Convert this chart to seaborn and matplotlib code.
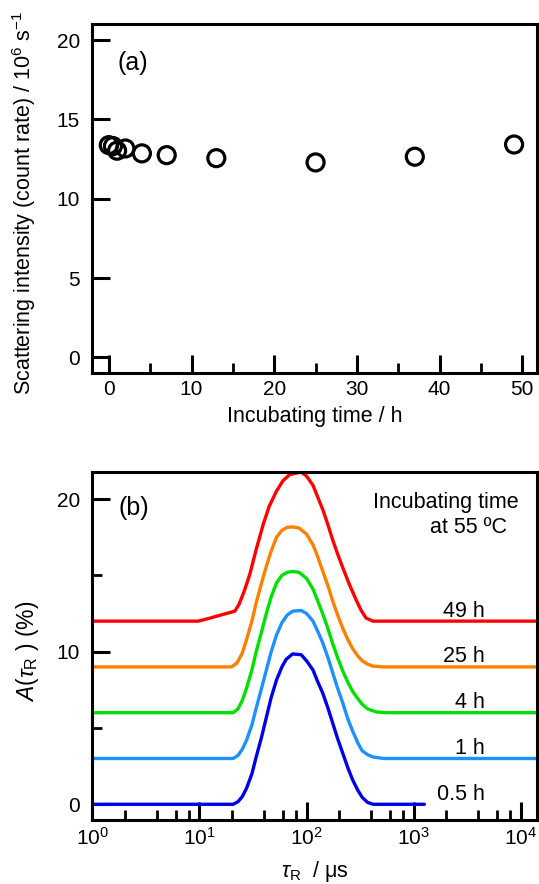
import numpy as np
import pandas as pd
import matplotlib
matplotlib.use("Agg")
import matplotlib.pyplot as plt
import matplotlib.ticker as mticker
import seaborn as sns

# ---------------- data ----------------
# panel (a)
inc_time_h = [0, 0.5, 1, 2, 4, 7, 13, 25, 37, 49]
intensity = [13.38, 13.32, 13.03, 13.17, 12.86, 12.75, 12.56, 12.29, 12.65, 13.42]

# panel (b): relaxation-time distributions (log10 tau in us, A in %)
curve_labels = ["0.5 h", "1 h", "4 h", "25 h", "49 h"]
curve_offsets = [0, 3, 6, 9, 12]
curve_colors = ["#0000e6", "#1e90ff", "#00e000", "#ff8000", "#ff0000"]

logtau_05 = [0, 1.315, 1.36, 1.40, 1.44, 1.49, 1.53, 1.58, 1.625, 1.67, 1.72, 1.77, 1.81, 1.87, 1.95,
             2.00, 2.06, 2.10, 2.15, 2.20, 2.245, 2.29, 2.34, 2.385, 2.43, 2.48, 2.52, 2.57, 2.62, 3.10]
A_05 = [0, 0, 0.17, 0.5, 1.05, 2.0, 3.1, 4.4, 5.7, 7.0, 8.15, 9.0, 9.5, 9.85, 9.8,
        9.4, 8.8, 8.1, 7.3, 6.3, 5.3, 4.3, 3.3, 2.4, 1.6, 0.9, 0.45, 0.12, 0, 0]

logtau_1 = [0, 1.315, 1.36, 1.40, 1.44, 1.49, 1.53, 1.58, 1.625, 1.67, 1.72, 1.77, 1.82, 1.87, 1.95,
            2.00, 2.06, 2.10, 2.15, 2.20, 2.245, 2.29, 2.34, 2.385, 2.43, 2.48, 2.52, 2.57, 2.62, 2.72, 4.153]
A_1 = [0, 0, 0.2, 0.6, 1.2, 2.2, 3.3, 4.6, 5.8, 7.0, 8.1, 8.9, 9.4, 9.65, 9.7,
       9.5, 9.0, 8.4, 7.6, 6.6, 5.6, 4.6, 3.6, 2.6, 1.8, 1.0, 0.5, 0.25, 0.1, 0, 0]

logtau_4 = [0, 1.315, 1.36, 1.40, 1.44, 1.49, 1.53, 1.58, 1.625, 1.67, 1.72, 1.77, 1.82, 1.87, 1.93,
            2.00, 2.06, 2.10, 2.15, 2.20, 2.245, 2.29, 2.34, 2.385, 2.43, 2.48, 2.52, 2.57, 2.65, 2.75, 4.153]
A_4 = [0, 0, 0.25, 0.8, 1.6, 2.8, 4.0, 5.3, 6.5, 7.6, 8.5, 9.0, 9.2, 9.25, 9.2,
       8.8, 8.1, 7.4, 6.5, 5.5, 4.5, 3.6, 2.7, 2.0, 1.4, 0.9, 0.55, 0.25, 0.05, 0, 0]

logtau_25 = [0, 1.30, 1.35, 1.40, 1.44, 1.49, 1.53, 1.58, 1.625, 1.67, 1.72, 1.77, 1.82, 1.87, 1.93,
             2.00, 2.06, 2.10, 2.15, 2.20, 2.245, 2.29, 2.34, 2.385, 2.43, 2.48, 2.52, 2.57, 2.62, 2.72, 4.153]
A_25 = [0, 0, 0.25, 0.9, 1.8, 3.0, 4.2, 5.5, 6.6, 7.6, 8.5, 8.95, 9.15, 9.17, 9.1,
        8.7, 8.0, 7.3, 6.3, 5.3, 4.3, 3.4, 2.5, 1.8, 1.2, 0.7, 0.4, 0.18, 0.05, 0, 0]

logtau_49 = [0, 0.99, 1.10, 1.20, 1.33, 1.37, 1.42, 1.47, 1.53, 1.594, 1.65, 1.718, 1.78, 1.842, 1.95,
             2.00, 2.06, 2.10, 2.152, 2.20, 2.245, 2.29, 2.338, 2.40, 2.462, 2.51, 2.555, 2.62, 4.153]
A_49 = [0, 0, 0.2, 0.4, 0.65, 1.1, 2.0, 3.06, 4.7, 6.3, 7.5, 8.5, 9.2, 9.6, 9.77,
        9.5, 8.9, 8.2, 7.3, 6.3, 5.3, 4.4, 3.5, 2.4, 1.4, 0.7, 0.2, 0, 0]

curve_logtau = [logtau_05, logtau_1, logtau_4, logtau_25, logtau_49]
curve_A = [A_05, A_1, A_4, A_25, A_49]

# ---------------- style ----------------
sns.set_style("ticks")
plt.rcParams["font.family"] = ["Liberation Sans", "DejaVu Sans"]
plt.rcParams["mathtext.fontset"] = "custom"
plt.rcParams["mathtext.rm"] = "Liberation Sans"
plt.rcParams["mathtext.it"] = "Liberation Sans:italic"
plt.rcParams["mathtext.bf"] = "Liberation Sans:bold"
plt.rcParams["axes.linewidth"] = 2.2
plt.rcParams["xtick.direction"] = "in"
plt.rcParams["ytick.direction"] = "in"
for k in ["text.color", "axes.labelcolor", "xtick.color", "ytick.color",
          "xtick.labelcolor", "ytick.labelcolor", "axes.edgecolor"]:
    plt.rcParams[k] = "black"

fig = plt.figure(figsize=(5.39, 8.84), dpi=100)
fig.patch.set_facecolor("white")

TICK_FS = 15
LAB_FS = 15.5

def style_axes(ax):
    for s in ax.spines.values():
        s.set_linewidth(2.2)
        s.set_color("black")
    ax.tick_params(which="major", length=13, width=2.2, labelsize=TICK_FS, color="black",
                   labelcolor="black")
    ax.tick_params(which="minor", length=7, width=2.0, color="black")
    ax.tick_params(axis="y", which="both", pad=9, right=False)
    ax.tick_params(axis="x", which="both", pad=5, top=False)
    ax.set_facecolor("white")

# ---------------- panel (a) ----------------
ax1 = fig.add_axes([0.1712, 0.5784, 0.8255, 0.395])
df_a = pd.DataFrame({"t": inc_time_h, "I": intensity})
sns.scatterplot(data=df_a, x="t", y="I", ax=ax1, s=150, facecolor="none",
                edgecolor="black", linewidth=2.3, marker="o", legend=False)
ax1.set_xlim(-2.0, 51.8)
ax1.set_ylim(-0.97, 21.05)
ax1.xaxis.set_major_locator(mticker.MultipleLocator(10))
ax1.xaxis.set_minor_locator(mticker.FixedLocator([5, 15, 25, 35, 45]))
ax1.yaxis.set_major_locator(mticker.MultipleLocator(5))
style_axes(ax1)
ax1.set_xlabel("Incubating time / h", fontsize=LAB_FS, labelpad=5)
ax1.set_ylabel(r"Scattering intensity (count rate) / 10$^{6}$ s$^{-1}$", fontsize=LAB_FS)
ax1.yaxis.set_label_coords(-0.122, 0.487)
ax1.text(1.1, 18.1, "(a)", fontsize=18, ha="left", va="baseline")

# ---------------- panel (b) ----------------
ax2 = fig.add_axes([0.1712, 0.0724, 0.8255, 0.3933])
rows = []
for lab, off, lt, a in zip(curve_labels, curve_offsets, curve_logtau, curve_A):
    for x, y in zip(lt, a):
        rows.append({"tau": 10 ** x, "A": y + off, "curve": lab})
df_b = pd.DataFrame(rows)
sns.lineplot(data=df_b, x="tau", y="A", hue="curve", hue_order=curve_labels,
             palette=curve_colors, estimator=None, sort=False, linewidth=2.4,
             legend=False, ax=ax2)
ax2.set_xscale("log")
ax2.set_xlim(1, 10 ** 4.153)
ax2.set_ylim(-1.03, 21.75)
ax2.xaxis.set_major_locator(mticker.LogLocator(base=10, numticks=10))
ax2.xaxis.set_minor_locator(mticker.LogLocator(base=10, subs=[2, 4, 6, 8], numticks=20))
ax2.xaxis.set_minor_formatter(mticker.NullFormatter())
ax2.xaxis.set_major_formatter(mticker.FuncFormatter(lambda v, p: r"$\mathregular{10^{%d}}$" % int(round(np.log10(v)))))
ax2.yaxis.set_major_locator(mticker.MultipleLocator(10))
ax2.yaxis.set_minor_locator(mticker.MultipleLocator(5))
style_axes(ax2)
ax2.set_xlabel(r"$\mathit{\tau}_{\rm R}$  / μs", fontsize=LAB_FS, labelpad=7)
ax2.set_ylabel(r"$\mathit{A}$($\mathit{\tau}_{\rm R}$ ) (%)", fontsize=16.5)
ax2.yaxis.set_label_coords(-0.115, 0.486)
ax2.text(1.75, 18.96, "(b)", fontsize=18, ha="left", va="baseline")
ax2.text(10 ** 3.98, 19.4, "Incubating time", fontsize=15.5, ha="right", va="baseline")
ax2.text(10 ** 3.87, 17.76, "at 55 ºC", fontsize=15.5, ha="right", va="baseline")
for lab, off in zip(curve_labels, curve_offsets):
    ax2.text(10 ** 3.665, off + 0.3, lab, fontsize=15.5, ha="right", va="baseline")

fig.savefig("out.png", dpi=100, facecolor="white")
